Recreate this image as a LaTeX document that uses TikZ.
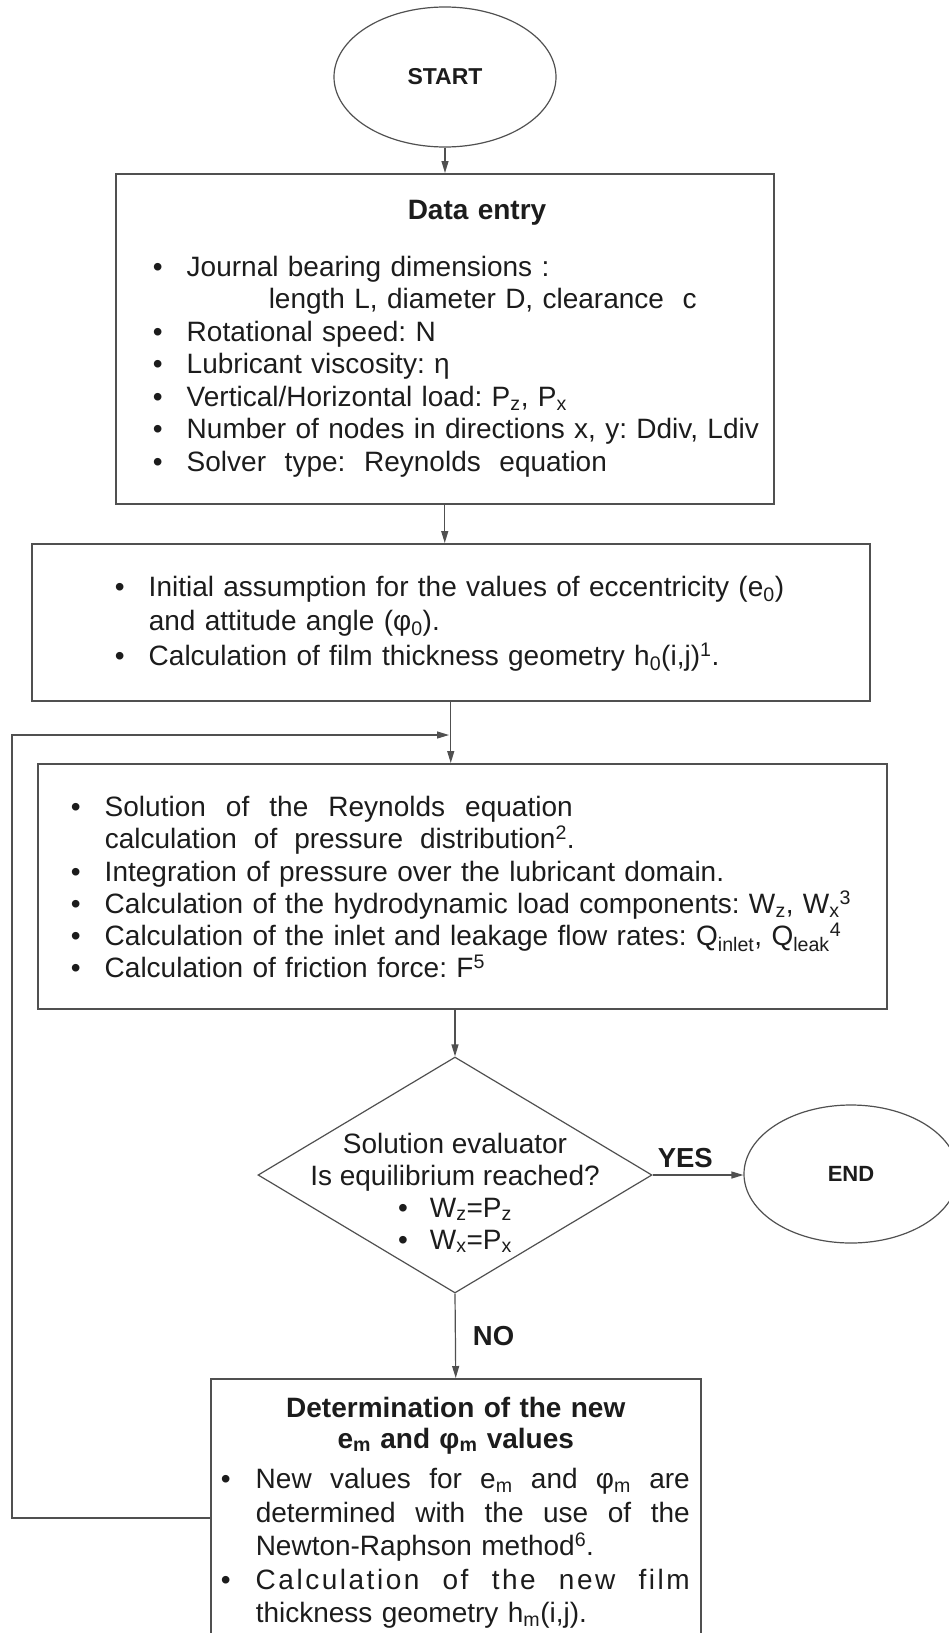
\documentclass[tikz,border=0pt]{standalone}
\usepackage{fontspec}
\setmainfont{Liberation Sans}
\usetikzlibrary{arrows.meta,shapes,positioning}
\definecolor{boxgray}{RGB}{80,80,80}
\definecolor{inkgray}{RGB}{28,28,28}
\hbadness=10000 \hfuzz=30pt
\frenchspacing
\newcommand{\bul}[1]{\par\hangindent=#1\hangafter=1\noindent\makebox[#1][l]{\textbullet}}
\tikzset{
  procbox/.style={draw=boxgray, line width=1.5pt, rectangle, anchor=north west, inner xsep=10pt, inner ysep=0pt, text=inkgray, font=\fontsize{28}{32.5}\selectfont},
  termin/.style={draw=boxgray, line width=1.2pt, ellipse, inner sep=0pt, text=inkgray},
  decide/.style={draw=boxgray, line width=1.2pt, diamond, inner sep=0pt, text=inkgray, font=\fontsize{28}{32}\selectfont},
  flowline/.style={draw=boxgray, line width=1.2pt, -{Triangle[length=12pt,width=7pt]}},
  answer/.style={font=\fontsize{27.5}{30}\bfseries\selectfont, text=inkgray, inner sep=4pt}
}
\begin{document}
\begin{tikzpicture}[x=1pt,y=-1pt]
\useasboundingbox (0,0) rectangle (948,1633);
%start and end
\node[termin, minimum width=222pt, minimum height=140pt, font=\fontsize{23}{25}\bfseries\selectfont] (start) at (445,77) {START};
\node[termin, minimum width=214pt, minimum height=138pt, font=\fontsize{22}{24}\bfseries\selectfont] (finish) at (851,1174) {END};
%data entry
\node[procbox, text width=638pt, minimum height=330pt] (data) at (115,173) {%
\leftskip=27pt\noindent\hspace*{255pt}\textbf{Data entry}\par
\vspace{24.5pt}
\bul{34pt}Journal bearing dimensions :\newline\hspace*{82pt}length L, diameter D, clearance~~c
\bul{34pt}Rotational speed: N
\bul{34pt}Lubricant viscosity: η
\bul{34pt}Vertical/Horizontal load: P\textsubscript{z}, P\textsubscript{x}
\bul{34pt}Number of nodes in directions x, y: Ddiv, Ldiv
\bul{34pt}Solver~~type:~~Reynolds~~equation\par};
%initial assumption
\node[procbox, text width=818pt, minimum height=157pt] (init) at (31,543) {%
\leftskip=73pt\baselineskip=34.5pt
\bul{34pt}Initial assumption for the values of eccentricity (e\textsubscript{0})\newline and attitude angle (φ\textsubscript{0}).
\bul{34pt}Calculation of film thickness geometry h\textsubscript{0}(i,j)\textsuperscript{1}.\par
\vspace*{12pt}};
%reynolds solution
\node[procbox, text width=829pt, minimum height=245pt] (solve) at (37,763) {%
\leftskip=23pt\baselineskip=32.2pt
\bul{34pt}\makebox[468pt][l]{Solution\hfill of\hfill the\hfill Reynolds\hfill equation}\newline
\makebox[470pt][l]{calculation\hfill of\hfill pressure\hfill distribution\textsuperscript{2}.}
\bul{34pt}Integration of pressure over the lubricant domain.
\bul{34pt}Calculation of the hydrodynamic load components: W\textsubscript{z}, W\textsubscript{x}\textsuperscript{3}
\bul{34pt}Calculation of the inlet and leakage flow rates: Q\textsubscript{inlet}, Q\textsubscript{leak}\textsuperscript{4}
\bul{34pt}Calculation of friction force: F\textsuperscript{5}\par
\vspace*{10pt}};
%evaluator
\node[decide, minimum width=394pt, minimum height=236pt] (judge) at (455,1175) {\makebox[0pt]{\smash{\raisebox{-26pt}{\begin{tabular}{@{}c@{}}Solution evaluator\\Is equilibrium reached?\\
\textbullet\hspace{22pt}W\textsubscript{z}=P\textsubscript{z}\\ \textbullet\hspace{22pt}W\textsubscript{x}=P\textsubscript{x}\end{tabular}}}}};
%new values
\node[procbox, text width=470pt, minimum height=268pt] (renew) at (210,1378) {%
{\centering\bfseries\baselineskip=31pt Determination of the new\\ e\textsubscript{m} and φ\textsubscript{m} values\par}
\vspace{7pt}\baselineskip=33.5pt
\bul{35pt}\makebox[434pt][l]{New\hfill values\hfill for\hfill e\textsubscript{m}\hfill and\hfill φ\textsubscript{m}\hfill are}\newline
\makebox[434pt][l]{determined\hfill with\hfill the\hfill use\hfill of\hfill the}\newline
Newton-Raphson method\textsuperscript{6}.
\bul{35pt}\makebox[434pt][l]{\addfontfeature{LetterSpace=9}Calculation\hfill of\hfill the\hfill new\hfill film}\newline
thickness geometry h\textsubscript{m}(i,j).\par};
%arrows
\draw[flowline] (start.south) -- (start.south |- data.north);
\draw[flowline] (data.south) -- (data.south |- init.north);
\draw[flowline] (init.south) -- (init.south |- solve.north);
\draw[flowline] (judge.north |- solve.south) -- (judge.north);
\draw[flowline] (judge.east) -- node[answer, above=3pt, pos=0.36] {YES} (judge.east -| finish.west);
\draw[flowline] (judge.south) -- node[answer, right=13pt] {NO} (renew.north);
%loop back
\coordinate (loopout) at (renew.west |- 0,1518);
\coordinate (loopleft) at (12,1100);
\coordinate (loopin) at (449,735);
\draw[flowline] (loopout) -| (loopleft) |- (loopin);
\end{tikzpicture}
\end{document}
